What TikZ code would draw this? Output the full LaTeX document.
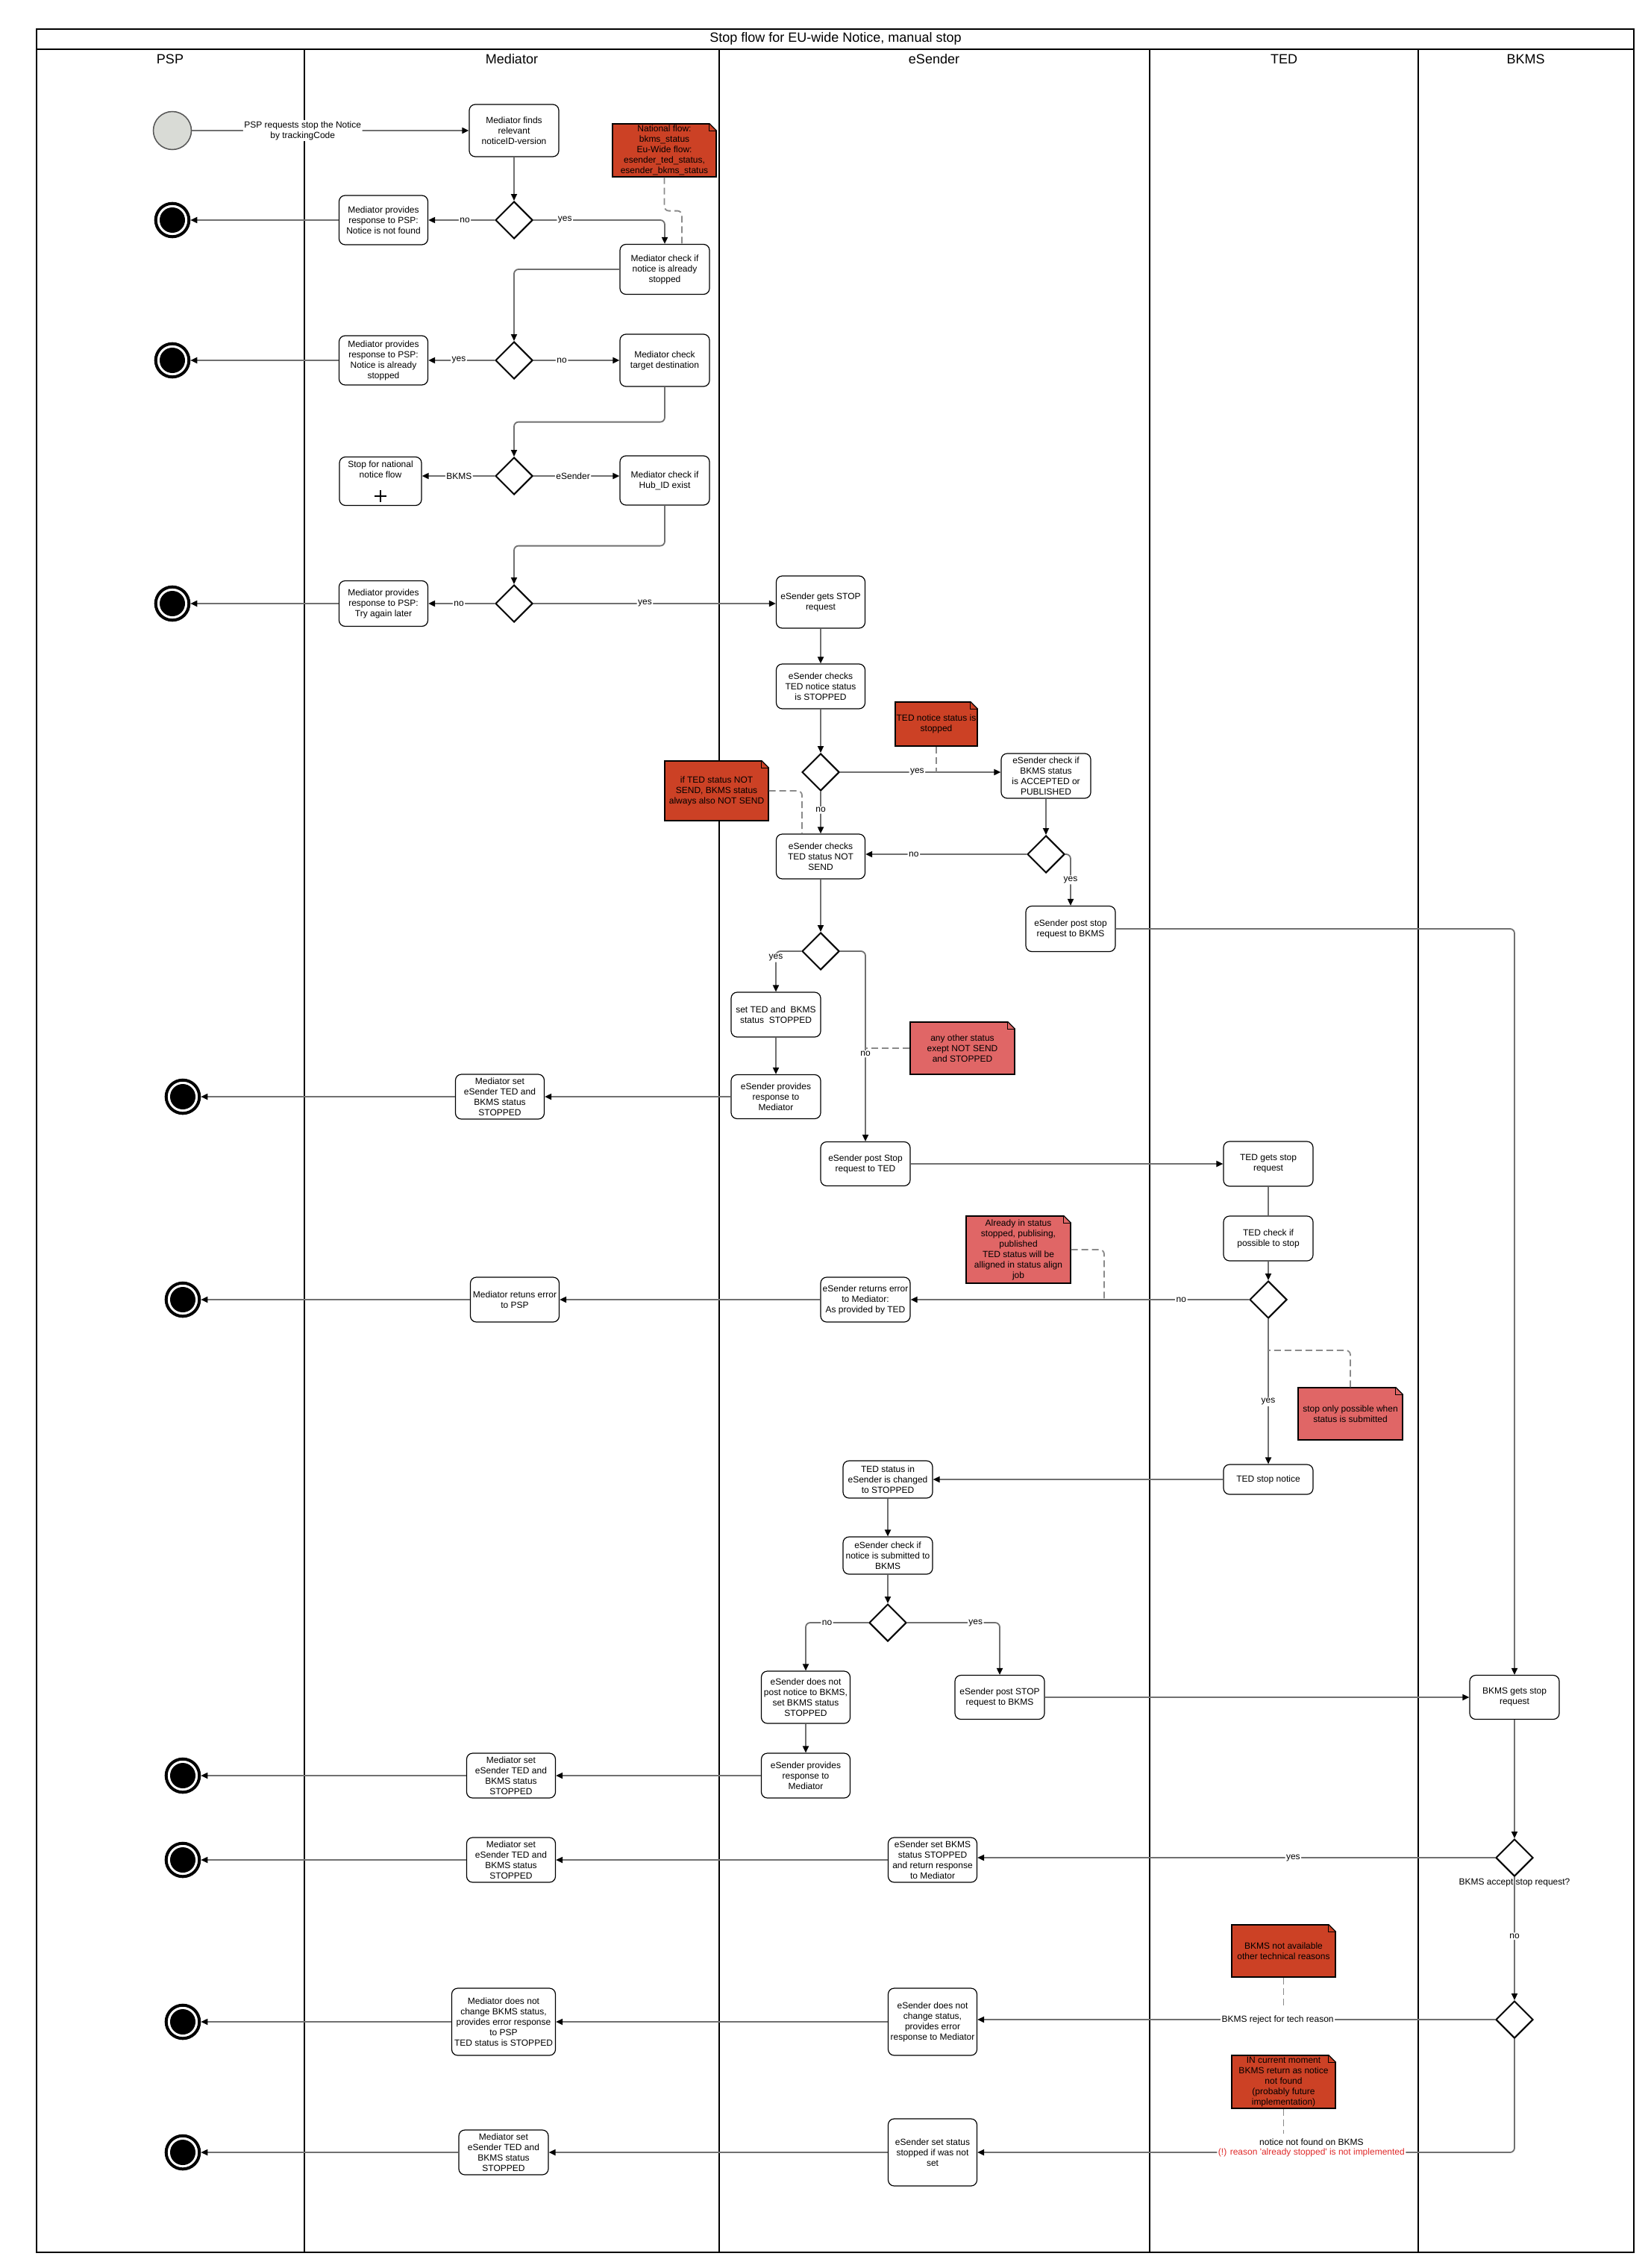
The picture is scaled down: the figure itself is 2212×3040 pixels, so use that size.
\documentclass[tikz,border=0pt]{standalone}
\usepackage{fontspec}
\setmainfont{Liberation Sans}
\usetikzlibrary{arrows.meta,shapes.geometric,calc}
\definecolor{edgec}{HTML}{707070}
\definecolor{dashc}{HTML}{8A8A8A}
\definecolor{notedark}{HTML}{CC4125}
\definecolor{notelight}{HTML}{E06666}
\definecolor{startfill}{HTML}{D9DBD6}
\definecolor{startline}{HTML}{555555}
\definecolor{warnred}{HTML}{E02A2A}
\newcommand\nfs{\fontsize{12}{14}\selectfont}
\newcommand\hfs{\fontsize{18}{21}\selectfont}
\begin{document}
\begin{tikzpicture}[x=1pt,y=-1pt,
  every node/.style={font=\nfs, align=center},
  box/.style 2 args={draw=black, line width=1.2pt, rounded corners=8pt, fill=white, align=center, inner sep=1pt, minimum width=#1pt, minimum height=#2pt},
  note/.style n args={3}{draw=black, line width=1.2pt, fill=#3, align=center, inner sep=1pt, minimum width=#1pt, minimum height=#2pt},
  dec/.style={diamond, draw=black, line width=2pt, fill=white, minimum width=50pt, minimum height=50pt, inner sep=0pt, aspect=1},
  endc/.style={circle, draw=black, line width=4pt, fill=white, minimum size=44.6pt, inner sep=0pt, path picture={\fill[black] (path picture bounding box.center) circle (17pt);}},
  startc/.style={circle, draw=startline, line width=1.5pt, fill=startfill, minimum size=51pt, inner sep=0pt},
  flow/.style={draw=edgec, line width=1.8pt, rounded corners=6pt, -{Triangle[length=9pt,width=8pt,color=black]}},
  lineonly/.style={draw=edgec, line width=1.8pt, rounded corners=6pt},
  dashln/.style={draw=dashc, line width=1.8pt, dash pattern=on 9pt off 5pt, rounded corners=6pt},
  lbl/.style={fill=white, inner sep=1.5pt, align=center, font=\nfs}
]
\useasboundingbox (0,0) rectangle (2212,3040);
\fill[white] (0,0) rectangle (2212,3040);

% pool and lanes
\draw[line width=2.5pt] (49,39) rectangle (2190,3019);
\draw[line width=2.5pt] (49,66) -- (2190,66);
\foreach \x in {408,964,1541,1901} \draw[line width=1.8pt] (\x,66) -- (\x,3019);
\node[font=\hfs] (title) at (1120,52) {Stop flow for EU-wide Notice, manual stop};
\node[font=\hfs] (lpsp) at (228,79) {PSP};
\node[font=\hfs] (lmed) at (686,79) {Mediator};
\node[font=\hfs] (lesd) at (1252,79) {eSender};
\node[font=\hfs] (lted) at (1721,79) {TED};
\node[font=\hfs] (lbkms) at (2045,79) {BKMS};

% ---------- nodes ----------
\node[startc] (start) at (231,175) {};
\node[box={120}{70}] (m1) at (689,175) {Mediator finds\\relevant\\noticeID-version};
\node[dec] (d1) at (689,295) {};
\node[box={119}{66}] (m2) at (514,295) {Mediator provides\\response to PSP:\\Notice is not found};
\node[endc] (end1) at (231,295) {};
\node[note={139}{71}{notedark}] (n1) at (890.5,201.5) {National flow:\\bkms\_status\\Eu-Wide flow:\\esender\_ted\_status,\\esender\_bkms\_status};
\node[box={120}{67}] (m3) at (891,361) {Mediator check if\\notice is already\\stopped};
\node[dec] (d2) at (689,483) {};
\node[box={119}{66}] (m4) at (514,483) {Mediator provides\\response to PSP:\\Notice is already\\stopped};
\node[endc] (end2) at (231,483) {};
\node[box={120}{70}] (m5) at (891,483) {Mediator check\\target destination};
\node[dec] (d3) at (689,638) {};
\node[box={110}{65}] (m6) at (510,645) {};
\node (m6t) at (510,629) {Stop for national\\notice flow};
\draw[line width=1.2pt] (502,665) -- (518,665) (510,657) -- (510,673);
\node[box={120}{66}] (m7) at (891,644) {Mediator check if\\Hub\_ID exist};
\node[dec] (d4) at (689,809) {};
\node[box={119}{61}] (m8) at (514,809) {Mediator provides\\response to PSP:\\Try again later};
\node[endc] (end3) at (231,809) {};

\node[box={119}{70}] (e1) at (1100,807) {eSender gets STOP\\request};
\node[box={119}{60}] (e2) at (1100,920) {eSender checks\\TED notice status\\is STOPPED};
\node[dec] (d5) at (1100,1035) {};
\node[note={110}{59}{notedark}] (n2) at (1255,970.5) {TED notice status is\\stopped};
\node[box={120}{60}] (e3) at (1402,1040) {eSender check if\\BKMS status\\is ACCEPTED or\\PUBLISHED};
\node[note={139}{80}{notedark}] (n3) at (960.5,1060) {if TED status NOT\\SEND, BKMS status\\always also NOT SEND};
\node[box={119}{60}] (e4) at (1100,1148) {eSender checks\\TED status NOT\\SEND};
\node[dec] (d6) at (1402,1145) {};
\node[box={120}{61}] (e5) at (1435,1245) {eSender post stop\\request to BKMS};
\node[dec] (d7) at (1100,1275) {};
\node[box={120}{60}] (e6) at (1040,1360) {set TED and\ \ BKMS\\status\ \ STOPPED};
\node[box={120}{59}] (e7) at (1040,1470) {eSender provides\\response to\\Mediator};
\node[note={140}{70}{notelight}] (n4) at (1290,1405) {any other status\\exept NOT SEND\\and STOPPED};
\node[box={119}{60}] (m9) at (670,1470) {Mediator set\\eSender TED and\\BKMS status\\STOPPED};
\node[endc] (end4) at (245,1470) {};
\node[box={120}{59}] (e8) at (1160,1560) {eSender post Stop\\request to TED};
\node[box={120}{60}] (t1) at (1700,1560) {TED gets stop\\request};
\node[box={120}{60}] (t2) at (1700,1660) {TED check if\\possible to stop};
\node[dec] (d8) at (1700,1742) {};
\node[note={140}{90}{notelight}] (n5) at (1365,1675) {Already in status\\stopped, publising,\\published\\TED status will be\\alligned in status align\\job};
\node[box={120}{60}] (e9) at (1160,1742) {eSender returns error\\to Mediator:\\As provided by TED};
\node[box={119}{60}] (m10) at (690,1742) {Mediator retuns error\\to PSP};
\node[endc] (end5) at (245,1742) {};
\node[note={140}{70}{notelight}] (n6) at (1810,1895) {stop only possible when\\status is submitted};
\node[box={120}{40}] (t3) at (1700,1983) {TED stop notice};
\node[box={120}{50}] (e10) at (1190,1983) {TED status in\\eSender is changed\\to STOPPED};
\node[box={120}{50}] (e11) at (1190,2085) {eSender check if\\notice is submitted to\\BKMS};
\node[dec] (d9) at (1190,2175) {};
\node[box={119}{70}] (e12) at (1080,2275) {eSender does not\\post notice to BKMS,\\set BKMS status\\STOPPED};
\node[box={120}{59}] (e13) at (1340,2275) {eSender post STOP\\request to BKMS};
\node[box={120}{59}] (b1) at (2030,2275) {BKMS gets stop\\request};
\node[box={119}{60}] (e14) at (1080,2380) {eSender provides\\response to\\Mediator};
\node[box={119}{60}] (m11) at (685,2380) {Mediator set\\eSender TED and\\BKMS status\\STOPPED};
\node[endc] (end6) at (245,2380) {};
\node[dec] (d10) at (2030,2490) {};
\node (acc) at (2030,2524) {BKMS accept stop request?};
\node[box={119}{60}] (e15) at (1250,2493) {eSender set BKMS\\status STOPPED\\and return response\\to Mediator};
\node[box={119}{60}] (m12) at (685,2493) {Mediator set\\eSender TED and\\BKMS status\\STOPPED};
\node[endc] (end7) at (245,2493) {};
\node[note={139}{70}{notedark}] (n7) at (1720.5,2615) {BKMS not available\\other technical reasons};
\node[dec] (d11) at (2030,2707) {};
\node[box={119}{90}] (e16) at (1250,2710) {eSender does not\\change status,\\provides error\\response to Mediator};
\node[box={139}{90}] (m13) at (675,2710) {Mediator does not\\change BKMS status,\\provides error response\\to PSP\\TED status is STOPPED};
\node[endc] (end8) at (245,2710) {};
\node[note={139}{71}{notedark}] (n8) at (1720.5,2790.5) {IN current moment\\BKMS return as notice\\not found\\(probably future\\implementation)};
\node[box={119}{90}] (e17) at (1250,2885) {eSender set status\\stopped if was not\\set};
\node[box={120}{60}] (m14) at (675,2885) {Mediator set\\eSender TED and\\BKMS status\\STOPPED};
\node[endc] (end9) at (245,2885) {};

% note folds
\foreach \n in {n1,n2,n3,n4,n5,n6,n7,n8} {
  \fill[white] ([xshift=-10pt]\n.north east) -- ([xshift=2pt,yshift=2pt]\n.north east) -- ([yshift=-10pt]\n.north east) -- cycle;
  \draw[line width=1.2pt] ([xshift=-10pt]\n.north east) -- ([yshift=-10pt]\n.north east);
  \draw[line width=0.8pt] ([xshift=-10pt]\n.north east) -- ([xshift=-10pt,yshift=-10pt]\n.north east) -- ([yshift=-10pt]\n.north east);
}

\coordinate (n5end) at (1480,1742);
\coordinate (n6end) at (1700,1810);
\coordinate (n7end) at (1720.5,2690);
\coordinate (n8end) at (1720.5,2860);

% ---------- connectors ----------
\draw[flow] (start) -- (m1.west) node[lbl,pos=0.4] {PSP requests stop the Notice\\by trackingCode};
\draw[flow] (m1.south) -- (d1.north);
\draw[flow] (d1.west) -- (m2.east) node[lbl,pos=0.45] {no};
\draw[flow] (m2.west) -- (end1.east);
\draw[flow] (d1.east) -| (m3.north) node[lbl,pos=0.12] {yes};
\draw[dashln] (n1.south) -- ++(0,45) -| ([xshift=23pt]m3.north);
\draw[flow] (m3.west) -| (d2.north);
\draw[flow] (d2.west) -- (m4.east) node[lbl,pos=0.54] {yes};
\draw[flow] (m4.west) -- (end2.east);
\draw[flow] (d2.east) -- (m5.west) node[lbl,pos=0.33] {no};
\draw[flow] (m5.south) -- ++(0,47) -| (d3.north);
\draw[flow] (d3.west) -- (d3.west -| m6.east) node[lbl,pos=0.49] {BKMS};
\draw[flow] (d3.east) -- (d3.east -| m7.west) node[lbl,pos=0.46] {eSender};
\draw[flow] (m7.south) -- ++(0,54) -| (d4.north);
\draw[flow] (d4.west) -- (m8.east) node[lbl,pos=0.54] {no};
\draw[flow] (m8.west) -- (end3.east);
\draw[flow] (d4.east) -- (d4.east -| e1.west) node[lbl,pos=0.46] {yes};

\draw[flow] (e1.south) -- (e2.north);
\draw[flow] (e2.south) -- (d5.north);
\draw[flow] (d5.south) -- (e4.north) node[lbl,pos=0.44] {no};
\draw[flow] (d5.east) -- (d5.east -| e3.west) node[lbl,pos=0.48] {yes};
\draw[dashln] (n2.south) -- (n2.south |- d5.east);
\draw[dashln] (n3.east) -| ([xshift=-25pt]e4.north);
\draw[flow] (e3.south) -- (d6.north);
\draw[flow] (d6.west) -- (d6.west -| e4.east) node[lbl,pos=0.7] {no};
\draw[flow] (d6.east) -| (e5.north) node[lbl,pos=0.75] {yes};
\draw[flow] (e5.east) -| (b1.north);
\draw[flow] (e4.south) -- (d7.north);
\draw[flow] (d7.west) -| (e6.north) node[lbl,pos=0.58] {yes};
\draw[flow] (d7.east) -| (e8.north) node[lbl,pos=0.77] {no};
\draw[dashln] (n4.west) -- (n4.west -| e8.north);
\draw[flow] (e6.south) -- (e7.north);
\draw[flow] (e7.west) -- (m9.east);
\draw[flow] (m9.west) -- (end4.east);
\draw[flow] (e8.east) -- (t1.west);
\draw[lineonly] (t1.south) -- (t2.north);
\draw[flow] (t2.south) -- (d8.north);
\draw[flow] (d8.west) -- (e9.east) node[lbl,pos=0.2] {no};
\draw[dashln] (n5.east) -| (n5end);
\draw[flow] (e9.west) -- (m10.east);
\draw[flow] (m10.west) -- (end5.east);
\draw[flow] (d8.south) -- (t3.north) node[lbl,pos=0.57] {yes};
\draw[dashln] (n6.north) |- (n6end);
\draw[flow] (t3.west) -- (e10.east);
\draw[flow] (e10.south) -- (e11.north);
\draw[flow] (e11.south) -- (d9.north);
\draw[flow] (d9.west) -| (e12.north) node[lbl,pos=0.33] {no};
\draw[flow] (d9.east) -| (e13.north) node[lbl,pos=0.37] {yes};
\draw[flow] (e12.south) -- (e14.north);
\draw[flow] (e13.east) -- (b1.west);
\draw[flow] (e14.west) -- (m11.east);
\draw[flow] (m11.west) -- (end6.east);
\draw[flow] (b1.south) -- (d10.north);
\draw[flow] (d10.west) -- (d10.west -| e15.east) node[lbl,pos=0.39] {yes};
\draw[flow] (e15.west) -- (m12.east);
\draw[flow] (m12.west) -- (end7.east);
\draw[flow] (d10.south) -- (d11.north) node[lbl,pos=0.48] {no};
\draw[flow] (d11.west) -- (d11.west -| e16.east) node[lbl,pos=0.42] {BKMS reject for tech reason};
\draw[dashln] (n7.south) -- (n7end);
\draw[flow] (e16.west) -- (m13.east);
\draw[flow] (m13.west) -- (end8.east);
\draw[flow] (d11.south) |- (e17.east)
   node[lbl,pos=0.689,text=warnred] {(!) reason \textquotesingle already stopped\textquotesingle\ is not implemented}
   node[pos=0.689,yshift=14pt,inner sep=0pt] {notice not found on BKMS};
\draw[dashln] (n8.south) -- (n8end);
\draw[flow] (e17.west) -- (m14.east);
\draw[flow] (m14.west) -- (end9.east);
\end{tikzpicture}
\end{document}
